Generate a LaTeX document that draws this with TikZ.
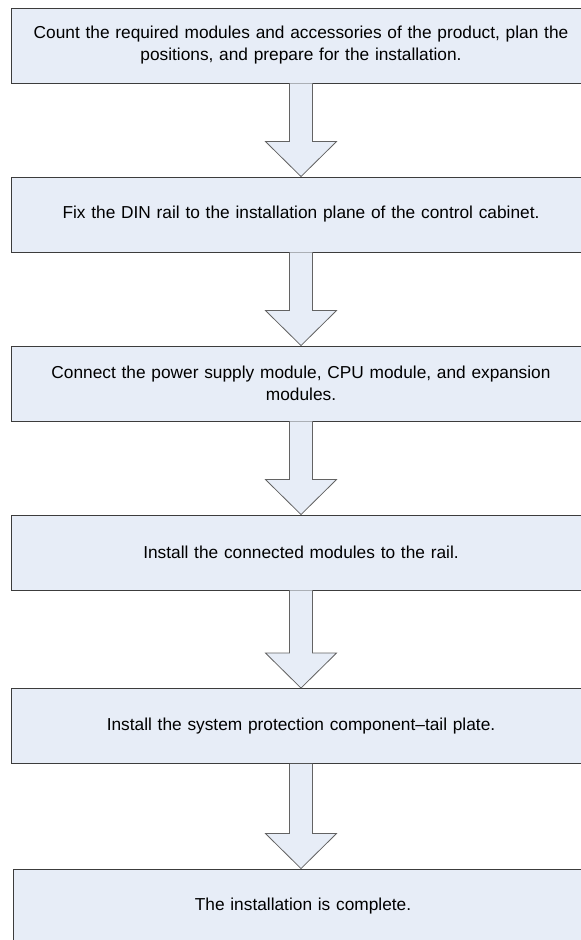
\documentclass[tikz,border=0pt]{standalone}
\usepackage{fontspec}
\setmainfont{Liberation Sans}
\usetikzlibrary{calc}

\definecolor{boxfill}{RGB}{231,237,247}
\definecolor{boxline}{RGB}{60,60,60}

% block arrow from the bottom of one box to the top of the next
\newcommand{\blockarrow}[2]{%
    \path[arrowbox] let \p1=(#1.south), \p2=(#2.north) in
        (\x1-11.5pt,\y1) -- (\x1-11.5pt,\y2+35pt) -- (\x1-35.5pt,\y2+35pt)
        -- (\x1,\y2) -- (\x1+35.5pt,\y2+35pt) -- (\x1+11.5pt,\y2+35pt)
        -- (\x1+11.5pt,\y1);
}

\begin{document}
\begin{tikzpicture}[x=1pt, y=-1pt,
    stepbox/.style={rectangle, draw=boxline, fill=boxfill, line width=0.9pt,
        minimum width=580pt, minimum height=75pt, text width=550pt, align=center,
        inner sep=0pt, font=\fontsize{17.3}{22}\selectfont},
    arrowbox/.style={draw=boxline!80, fill=boxfill, line width=0.8pt, line join=miter}]
    \useasboundingbox (0,0) rectangle (581,940);

    % Draw nodes
    \node[stepbox] (1) at (301,45.5) {Count the required modules and accessories of the product, plan the\\ positions, and prepare for the installation.};
    \node[stepbox] (2) at (301,214.5) {Fix the DIN rail to the installation plane of the control cabinet.};
    \node[stepbox] (3) at (301,383.5) {Connect the power supply module, CPU module, and expansion\\ modules.};
    \node[stepbox] (4) at (301,552.5) {Install the connected modules to the rail.};
    \node[stepbox] (5) at (301,726) {Install the system protection component--tail plate.};
    \node[stepbox] (6) at (303,906.5) {The installation is complete.};

    % Draw connections
    \blockarrow{1}{2}
    \blockarrow{2}{3}
    \blockarrow{3}{4}
    \blockarrow{4}{5}
    \blockarrow{5}{6}
\end{tikzpicture}
\end{document}
